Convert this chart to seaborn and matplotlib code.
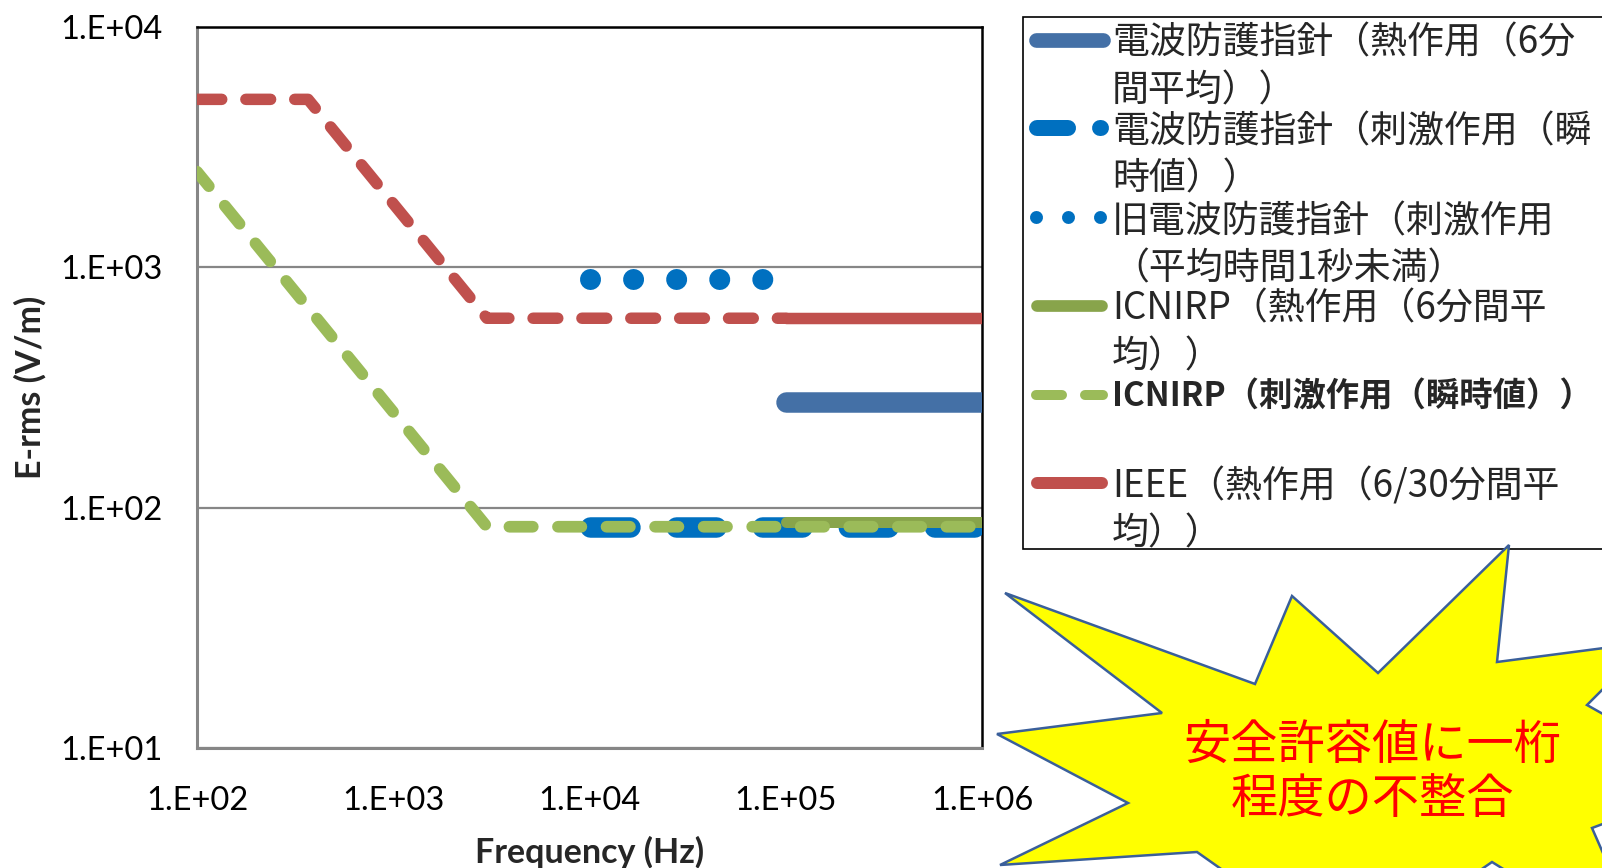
import numpy as np
import matplotlib
matplotlib.use("Agg")
import matplotlib.pyplot as plt
import seaborn as sns
from matplotlib.lines import Line2D
from matplotlib.patches import Polygon, Rectangle
from matplotlib.ticker import LogLocator, FuncFormatter, NullFormatter

# --- data: frequency (Hz) vs E-rms (V/m) ---
jp_thermal_f = [1e5, 1e6]
jp_thermal_e = [275, 275]
jp_stim_f = [1e4, 1e6]
jp_stim_e = [83, 83]
jp_old_f = [1e4, 1e5]
jp_old_e = [890, 890]
icnirp_thermal_f = [1e5, 1e6]
icnirp_thermal_e = [87, 87]
icnirp_stim_f = [100, 3000, 1e6]
icnirp_stim_e = [2500, 83.3, 83.3]
ieee_stim_f = [100, 368, 3000, 1e5]
ieee_stim_e = [5000, 5000, 614, 614]
ieee_thermal_f = [1e5, 1e6]
ieee_thermal_e = [614, 614]

legend_labels = [
    "電波防護指針（熱作用（6分\n間平均））",
    "電波防護指針（刺激作用（瞬\n時値））",
    "旧電波防護指針（刺激作用\n（平均時間1秒未満）",
    "ICNIRP（熱作用（6分間平\n均））",
    "ICNIRP（刺激作用（瞬時値））",
    "IEEE（熱作用（6/30分間平\n均））",
]
callout = "安全許容値に一桁\n程度の不整合"

c_jp_th = "#4470a6"
c_jp = "#0070c0"
c_olive = "#88a44b"
c_green = "#9bbb59"
c_red = "#c0504d"
grey = "#868686"

W, H = 1602, 868
def fx(x):
    return x / W
def fy(y):
    return 1 - y / H
def pt(px):
    return px * 0.72

sns.set_style("white")
plt.rcParams["font.family"] = ["Lato", "Noto Sans CJK JP", "DejaVu Sans"]

fig = plt.figure(figsize=(W / 100, H / 100), dpi=100)
ax = fig.add_axes([fx(197), fy(748), fx(982) - fx(197), fy(27) - fy(748)])
ax.set_xscale("log")
ax.set_yscale("log")

def draw(f, e, color, lw, ls="-", z=2):
    sns.lineplot(x=f, y=e, ax=ax, color=color, linewidth=pt(lw), linestyle=ls,
                 solid_capstyle="round", dash_capstyle="round",
                 solid_joinstyle="round", dash_joinstyle="round", zorder=z)

draw(jp_thermal_f, jp_thermal_e, c_jp_th, 20.5, z=3)
draw(jp_stim_f, jp_stim_e, c_jp, 20.5, ls=(0, (1.95, 2.25)), z=3)
draw(jp_old_f, jp_old_e, c_jp, 21, ls=(0, (0.001, 2.05)), z=3)
draw(icnirp_thermal_f, icnirp_thermal_e, c_olive, 11, z=4)
draw(icnirp_stim_f, icnirp_stim_e, c_green, 11.7, ls=(0.4, (2.0, 2.15)), z=5)
draw(ieee_stim_f, ieee_stim_e, c_red, 11.5, ls=(0, (2.15, 2.1)), z=5)
draw(ieee_thermal_f, ieee_thermal_e, c_red, 11.5, z=5)

ax.set_xlim(1e2, 1e6)
ax.set_ylim(1e1, 1e4)

fmt = FuncFormatter(lambda v, p: "1.E+%02d" % int(round(np.log10(v))))
for axis in (ax.xaxis, ax.yaxis):
    axis.set_major_locator(LogLocator(base=10, numticks=10))
    axis.set_minor_locator(LogLocator(base=10, subs=np.arange(2, 10), numticks=10))
    axis.set_major_formatter(fmt)
    axis.set_minor_formatter(NullFormatter())

ax.tick_params(which="major", direction="in", length=9, width=1.1, color=grey,
               labelsize=23.5, labelcolor="black")
ax.tick_params(which="minor", direction="in", length=5.8, width=1.1, color=grey)
ax.tick_params(axis="x", which="major", pad=27)
ax.tick_params(axis="y", which="major", pad=25)

ax.yaxis.grid(True, which="major", color=grey, linewidth=1.6)
ax.xaxis.grid(False)
ax.set_axisbelow(True)

for s in ("left", "bottom"):
    ax.spines[s].set_color(grey)
    ax.spines[s].set_linewidth(2.2)
for s in ("top", "right"):
    ax.spines[s].set_color("black")
    ax.spines[s].set_linewidth(1.8)

ax.set_xlabel("Frequency (Hz)", fontsize=24.5, fontweight="bold")
ax.set_ylabel("E-rms (V/m)", fontsize=24.5, fontweight="bold")
ax.xaxis.set_label_coords(0.5, -0.122)
ax.yaxis.set_label_coords(-0.192, 0.5)

# --- legend box, drawn by hand so the text wraps like the original ---
fig.add_artist(Rectangle((fx(1023), fy(549)), fx(1750) - fx(1023), (549 - 17) / H,
                         transform=fig.transFigure, facecolor="white",
                         edgecolor="black", linewidth=1.2, zorder=6))

handles = [
    dict(color=c_jp_th, lw=14.7, x=(1036, 1103), ls="-"),
    dict(color=c_jp, lw=16, x=(1037, 1101), ls=(0, (1.94, 2.0))),
    dict(color=c_jp, lw=13, x=(1036, 1101), ls=(0, (0.001, 2.46))),
    dict(color=c_olive, lw=11.7, x=(1037, 1102), ls="-"),
    dict(color=c_green, lw=10, x=(1036, 1103), ls=(0, (2.6, 2.3))),
    dict(color=c_red, lw=12, x=(1037, 1102), ls="-"),
]
handle_y = [40, 128, 217, 306, 395, 483]
text_y = [(43, 91), (132, 179), (222, 269), (309, 357), (397,), (487, 534)]

for h, hy, label, ty in zip(handles, handle_y, legend_labels, text_y):
    fig.add_artist(Line2D([fx(h["x"][0]), fx(h["x"][1])], [fy(hy), fy(hy)],
                          transform=fig.transFigure, color=h["color"],
                          linewidth=pt(h["lw"]), linestyle=h["ls"],
                          solid_capstyle="round", dash_capstyle="round", zorder=7))
    bold = "ICNIRP（刺激" in label
    for line, y in zip(label.split("\n"), ty):
        fig.text(fx(1112), fy(y), line, fontsize=24 if bold else 26.6,
                 va="center", ha="left",
                 family=["Noto Sans CJK JP", "DejaVu Sans"],
                 fontweight="bold" if bold else "normal", zorder=8)

# --- yellow call-out burst ---
burst = [(1005, 593), (1255, 684), (1292, 596), (1378, 673), (1509, 545),
         (1497, 662), (1650, 642), (1587, 705), (1720, 780), (1592, 828),
         (1650, 960), (1492, 862), (1350, 960), (1197, 852), (1000, 865),
         (1128, 803), (997, 734), (1162, 713)]
fig.add_artist(Polygon([(fx(x), fy(y)) for x, y in burst], closed=True,
                       transform=fig.transFigure, facecolor="#ffff00",
                       edgecolor="#3a5f9a", linewidth=1.8, zorder=10))
fig.text(fx(1372), fy(773), callout, color="#ff0000", fontsize=34,
         ha="center", va="center", linespacing=1.15,
         family=["Noto Sans CJK JP", "DejaVu Sans"], zorder=11)

fig.savefig("out.png", dpi=100)
